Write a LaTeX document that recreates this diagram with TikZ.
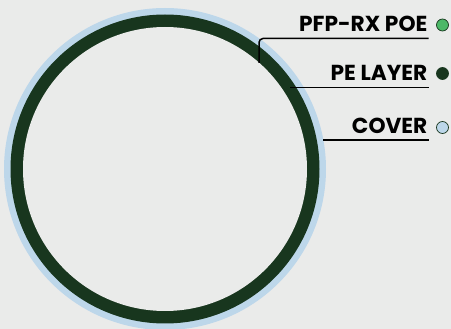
\documentclass[tikz,border=0pt]{standalone}
\usepackage{fontspec}
\setmainfont{Poppins}
\usepackage{tikz}
\usetikzlibrary{calc}
\usetikzlibrary{positioning}
\definecolor{bg}{HTML}{EAEBEA}
\definecolor{ringdark}{HTML}{18361E}
\definecolor{coverblue}{HTML}{BDD7EA}
\definecolor{poegreen}{HTML}{4CB867}
\tikzstyle{lbl} = [draw=none, inner sep = 0, anchor = base east, font = \fontsize{21.7}{22}\selectfont\bfseries]
\tikzstyle{dot} = [circle, draw = ringdark, line width = .7pt, minimum size = 12pt, inner sep = 0]
\tikzstyle{lead} = [-, draw = black, line width = 1.5pt]

\begin{document}
\begin{tikzpicture}[x=1pt, y=-1pt]
\fill [bg] (0, 0) rectangle (451, 329);
\useasboundingbox (0, 0) rectangle (451, 329);
\fill [coverblue] (165, 169) circle (161);
\fill [ringdark] (165, 169) circle (154.5);
\fill [bg] (165, 169) circle (142);
\node [lbl] (P) at (427.5, 32) {PFP-RX POE};
\node [lbl] (L) at (427.5, 81) {PE LAYER};
\node [lbl] (C) at (427.5, 133.5) {COVER};
\node [dot, fill = poegreen] (Pd) at (442.5, 25) {};
\node [dot, fill = ringdark] (Ld) at (442.5, 73.5) {};
\node [dot, fill = coverblue] (Cd) at (442.5, 127.5) {};
\coordinate (Pe) at (428.5, 38.5);
\coordinate (Pr) at (259, 63);
\coordinate (Le) at (428.5, 87.5);
\coordinate (Lr) at (290, 87.5);
\coordinate (Ce) at (428.5, 140);
\coordinate (Cr) at (323, 140);
\draw [lead, rounded corners = 4] (Pe) -| (Pr);
\draw [lead] (Le) -- (Lr);
\draw [lead] (Ce) -- (Cr);
\end{tikzpicture}
\end{document}
